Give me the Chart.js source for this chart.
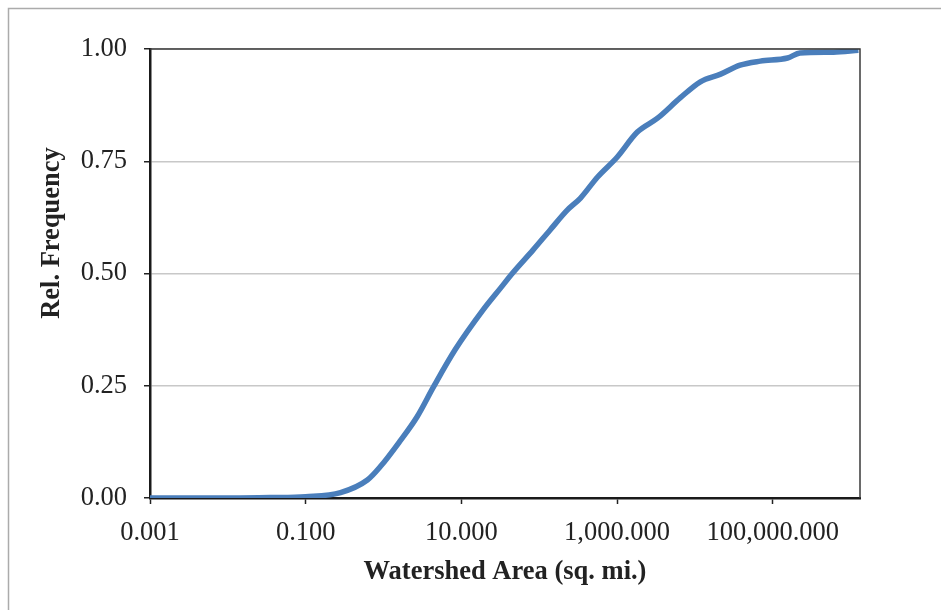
<!DOCTYPE html>
<html>
<head>
<meta charset="utf-8">
<script src="https://cdn.jsdelivr.net/npm/chart.js@4.4.0/dist/chart.umd.min.js"></script>
<style>
  html, body { margin: 0; padding: 0; background: #fff; }
  #wrap { width: 941px; height: 610px; }
</style>
</head>
<body>
<div id="wrap"><canvas id="freqChart" width="941" height="610"></canvas></div>
<script>
// cumulative distribution of watershed areas (sq. mi.)
const areas = [0.001, 0.011, 0.035, 0.10, 0.28, 0.62, 0.91, 1.6, 2.7, 4.4, 8.3, 19, 32, 45, 83, 138,
  229, 339, 562, 1000, 1820, 3310, 6460, 11750, 21400, 38000, 69200, 155000, 224000, 603000, 1260000];
const relFreq = [0, 0, 0.001, 0.003, 0.012, 0.040, 0.070, 0.125, 0.181, 0.248, 0.330, 0.419, 0.468, 0.500, 0.552, 0.597,
  0.641, 0.668, 0.715, 0.759, 0.815, 0.846, 0.891, 0.927, 0.944, 0.964, 0.973, 0.980, 0.991, 0.993, 0.997];
const xTicks = [0.001, 0.1, 10, 1000, 100000];
const yTicks = [0, 0.25, 0.5, 0.75, 1.0];
const yTitle = 'Rel. Frequency';

const serif = "'Liberation Serif', 'Times New Roman', serif";

// outer chart border, plot frame and the rotated y title
const borders = {
  id: 'borders',
  beforeDraw(chart) {
    const ctx = chart.ctx;
    ctx.save();
    ctx.strokeStyle = '#ababab';
    ctx.lineWidth = 1.5;
    ctx.strokeRect(8.5, 8.5, 1000, 1000);
    ctx.restore();
  },
  afterDatasetsDraw(chart) {
    const {ctx, chartArea: a} = chart;
    ctx.save();
    ctx.strokeStyle = '#3a3a3a';
    ctx.lineWidth = 1.5;
    ctx.beginPath();
    ctx.moveTo(a.left, a.top);
    ctx.lineTo(a.right, a.top);
    ctx.lineTo(a.right, a.bottom);
    ctx.stroke();
    ctx.restore();
  },
  afterDraw(chart) {
    const ctx = chart.ctx;
    ctx.save();
    ctx.translate(52, 233);
    ctx.rotate(-Math.PI / 2);
    ctx.font = 'bold 26.5px ' + serif;
    ctx.fillStyle = '#222';
    ctx.textAlign = 'center';
    ctx.textBaseline = 'middle';
    ctx.fillText(yTitle, 0, 0);
    ctx.restore();
  }
};

const ctx = document.getElementById('freqChart').getContext('2d');
const freqChart = new Chart(ctx, {
  type: 'line',
  data: {
    datasets: [{
      data: areas.map((a, i) => ({x: a, y: relFreq[i]})),
      borderColor: '#4a7ebb',
      borderWidth: 5.5,
      pointRadius: 0,
      cubicInterpolationMode: 'monotone',
      fill: false
    }]
  },
  options: {
    responsive: false,
    animation: false,
    layout: { padding: { left: 0, top: 49, right: 81, bottom: 0 } },
    plugins: { legend: { display: false }, tooltip: { enabled: false } },
    scales: {
      x: {
        type: 'logarithmic',
        min: 0.001,
        max: 1.32e6,
        afterBuildTicks(scale) {
          scale.ticks = xTicks.map(v => ({value: v}));
        },
        afterFit(scale) { scale.height = 112; },
        ticks: {
          color: '#222',
          font: { family: serif, size: 26.5 },
          padding: 13,
          maxRotation: 0,
          autoSkip: false,
          callback: v => Number(v).toLocaleString('en-US', {minimumFractionDigits: 3, maximumFractionDigits: 3})
        },
        grid: { drawOnChartArea: false, tickLength: 6, tickColor: '#222', tickWidth: 1.5 },
        border: { color: '#1a1a1a', width: 2.5 },
        title: {
          display: true,
          text: 'Watershed Area (sq. mi.)',
          color: '#222',
          font: { family: serif, size: 26.5, weight: 'bold' },
          padding: { top: 0, bottom: 22 }
        }
      },
      y: {
        min: 0,
        max: 1,
        afterBuildTicks(scale) {
          scale.ticks = yTicks.map(v => ({value: v}));
        },
        afterFit(scale) { scale.width = 150; },
        ticks: {
          color: '#222',
          font: { family: serif, size: 26.5 },
          padding: 17,
          callback: v => Number(v).toFixed(2)
        },
        grid: { color: '#c8c8c8', lineWidth: 1.5, tickLength: 6, tickColor: '#222', tickWidth: 1.5 },
        border: { color: '#1a1a1a', width: 2.5 }
      }
    }
  },
  plugins: [borders]
});
</script>
</body>
</html>
